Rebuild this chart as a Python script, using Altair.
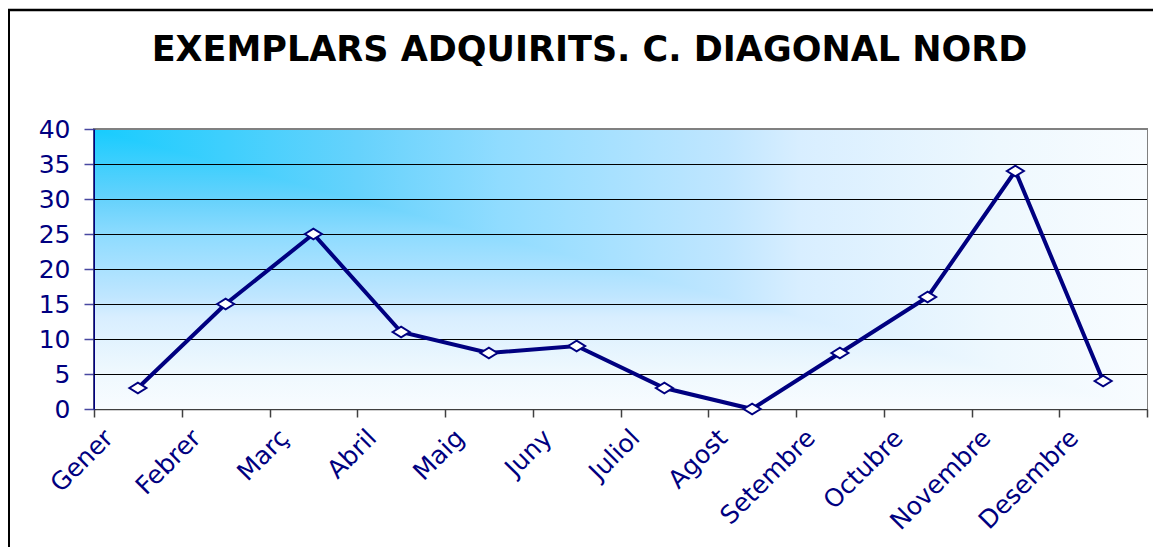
import base64
import altair as alt
import pandas as pd

# ---------------- data ----------------
title_text = "EXEMPLARS ADQUIRITS. C. DIAGONAL NORD"
months = ["Gener", "Febrer", "Març", "Abril", "Maig", "Juny", "Juliol",
          "Agost", "Setembre", "Octubre", "Novembre", "Desembre"]
values = [3, 15, 25, 11, 8, 9, 3, 0, 8, 16, 34, 4]
y_ticks = [0, 5, 10, 15, 20, 25, 30, 35, 40]

# ---------------- style ----------------
W, H = 1053, 280
NAVY = "#000080"
FONT = "DejaVu Sans"

df = pd.DataFrame({
    "month": months,
    "value": values,
    "pos": [i + 0.5 for i in range(len(months))],
})
grid_df = pd.DataFrame({"value": [v for v in y_ticks if 0 < v < max(y_ticks)]})

# "from corner" gradient background (cyan at top-left fading to white)
stops = [(0, "#18CCFE"), (0.25, "#66D2FC"), (0.385, "#90DCFF"), (0.6, "#C0E6FF"),
         (0.67, "#D8EEFF"), (0.86, "#EEF8FE"), (1, "#F8FCFF")]


def grad(gid, x2, y2):
    s = "".join(f'<stop offset="{o}" stop-color="{c}"/>' for o, c in stops)
    return f'<linearGradient id="{gid}" x1="0" y1="0" x2="{x2}" y2="{y2}">{s}</linearGradient>'


svg = (f'<svg xmlns="http://www.w3.org/2000/svg" width="{W}" height="{H}" '
       f'viewBox="0 0 1 1" preserveAspectRatio="none">'
       f'<defs>{grad("h", 1, 0)}{grad("v", 0, 1)}</defs>'
       '<rect x="0" y="0" width="1" height="1" fill="url(#h)"/>'
       '<polygon points="0,0 0,1 1,1" fill="url(#v)"/></svg>')
bg_url = "data:image/svg+xml;base64," + base64.b64encode(svg.encode("utf-8")).decode()

label_js = "[" + ",".join("'" + m + "'" for m in months) + "][datum.value] || ''"

x_axis = alt.Axis(
    values=list(range(len(months) + 1)),
    labelExpr=label_js,
    labelAngle=-45, labelAlign="right", labelBaseline="top",
    labelOffset=6, labelPadding=8,
    labelColor=NAVY, labelFont=FONT, labelFontSize=25,
    labelOverlap=False, labelFlush=False, labelBound=False,
    tickSize=8, tickColor="#404040", tickWidth=1.5,
    domainColor="#404040", domainWidth=1.5,
    grid=False, title=None,
)
y_axis = alt.Axis(
    values=y_ticks,
    labelColor=NAVY, labelFont=FONT, labelFontSize=25,
    labelPadding=14, labelFlush=False, labelOverlap=False,
    tickSize=10, tickColor="#4848a0", tickWidth=1.5,
    domainColor=NAVY, domainWidth=2,
    grid=False, title=None,
)
x_scale = alt.Scale(domain=[0, len(months)], nice=False, zero=False)
y_scale = alt.Scale(domain=[0, 40], nice=False)

x_enc = alt.X("pos:Q", scale=x_scale, axis=x_axis)
y_enc = alt.Y("value:Q", scale=y_scale, axis=y_axis)

background = alt.Chart(pd.DataFrame({"u": [bg_url]})).mark_image(
    width=W - 1, height=H - 1, aspect=False, align="left", baseline="top"
).encode(x=alt.value(1), y=alt.value(1), url="u:N")

grid = alt.Chart(grid_df).mark_rule(color="black", strokeWidth=1, yOffset=0.5).encode(
    y=y_enc
)

title = alt.Chart(pd.DataFrame({"t": [title_text]})).mark_text(
    font=FONT, fontSize=35, fontWeight="bold", color="black",
    align="center", baseline="alphabetic"
).encode(text="t:N", x=alt.value(495.5), y=alt.value(-68))

one = pd.DataFrame({"a": [0]})
border_top = alt.Chart(one).mark_rule(color="black", strokeWidth=2.5).encode(
    x=alt.value(-86), x2=alt.value(W + 6), y=alt.value(-119), y2=alt.value(-119)
)
border_left = alt.Chart(one).mark_rule(color="black", strokeWidth=2).encode(
    x=alt.value(-85), x2=alt.value(-85), y=alt.value(-120), y2=alt.value(H + 140)
)

base = alt.Chart(df).encode(x=x_enc, y=y_enc)
line = base.mark_line(color=NAVY, strokeWidth=4)
points = base.mark_point(
    shape="M-1,0L0,-0.62L1,0L0,0.62Z", size=289, filled=True,
    fill="white", stroke=NAVY, strokeWidth=2, opacity=1, fillOpacity=1
)

chart = alt.layer(
    background, grid, title, border_top, border_left, line, points
).properties(
    width=W, height=H,
    autosize=alt.AutoSizeParams(type="none"),
    padding={"left": 86, "top": 121, "right": 6, "bottom": 138},
    background="white",
).configure_view(stroke="#808080", strokeWidth=2)

chart.save("out.html", embed_options={"renderer": "svg", "actions": False})
